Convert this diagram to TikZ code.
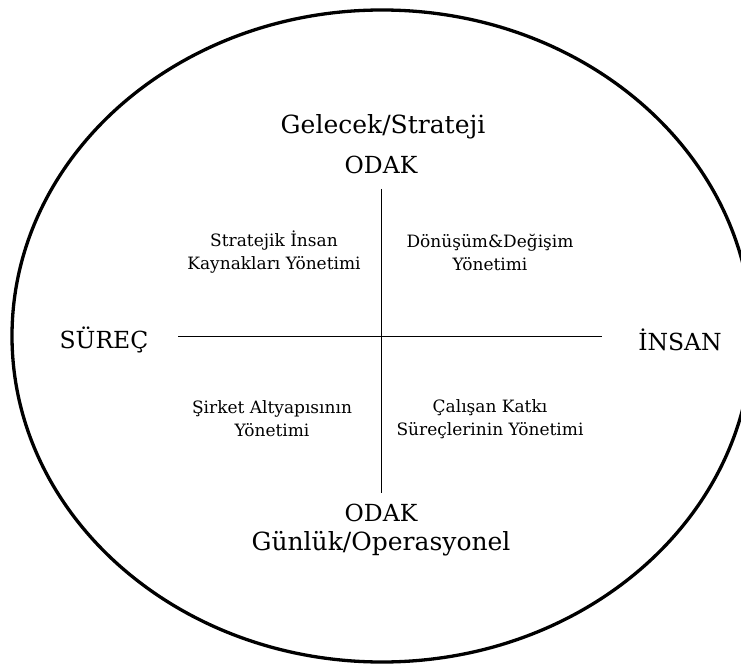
\documentclass[tikz,border=0pt]{standalone}
\usepackage{fontspec}
\setmainfont{DejaVu Serif}
\usetikzlibrary{positioning}

\tikzset{
    axislbl/.style={font=\fontsize{23.5}{28}\selectfont, inner sep=0pt},
    polelbl/.style={font=\fontsize{25}{30}\selectfont, inner sep=0pt},
    quadlbl/.style={font=\fontsize{17}{23}\selectfont, align=center, inner sep=0pt},
}

\begin{document}
\begin{tikzpicture}[x=1pt, y=-1pt]
        \useasboundingbox (0,0) rectangle (741,668);
        \clip (0,0) rectangle (741,668);
        \draw[line width=3.3pt] (382,336) ellipse [x radius=370, y radius=326];

        \coordinate (mid) at (381,336);
        \coordinate (top) at (381,189);
        \coordinate (bot) at (381,493);
        \coordinate (lft) at (178,336);
        \coordinate (rgt) at (602,336);

        \node[polelbl] (future) at (383,127) {Gelecek/Strateji};
        \node[axislbl] (focustop) at (381,165) {ODAK};
        \node[axislbl] (process) at (104,340) {SÜREÇ};
        \node[axislbl] (people) at (680,340) {İNSAN};
        \node[axislbl] (focusbot) at (381,513) {ODAK};
        \node[polelbl] (daily) at (381,544) {Günlük/Operasyonel};

        \node[quadlbl] (strat) at (274,252) {Stratejik İnsan\\Kaynakları Yönetimi};
        \node[quadlbl] (change) at (490,252) {Dönüşüm\&Değişim\\Yönetimi};
        \node[quadlbl] (infra) at (272,419) {Şirket Altyapısının\\Yönetimi};
        \node[quadlbl] (contrib) at (490,419) {Çalışan Katkı\\Süreçlerinin Yönetimi};

        \draw (top) -- (bot);
        \draw (lft) -- (rgt);
    \end{tikzpicture}
\end{document}
